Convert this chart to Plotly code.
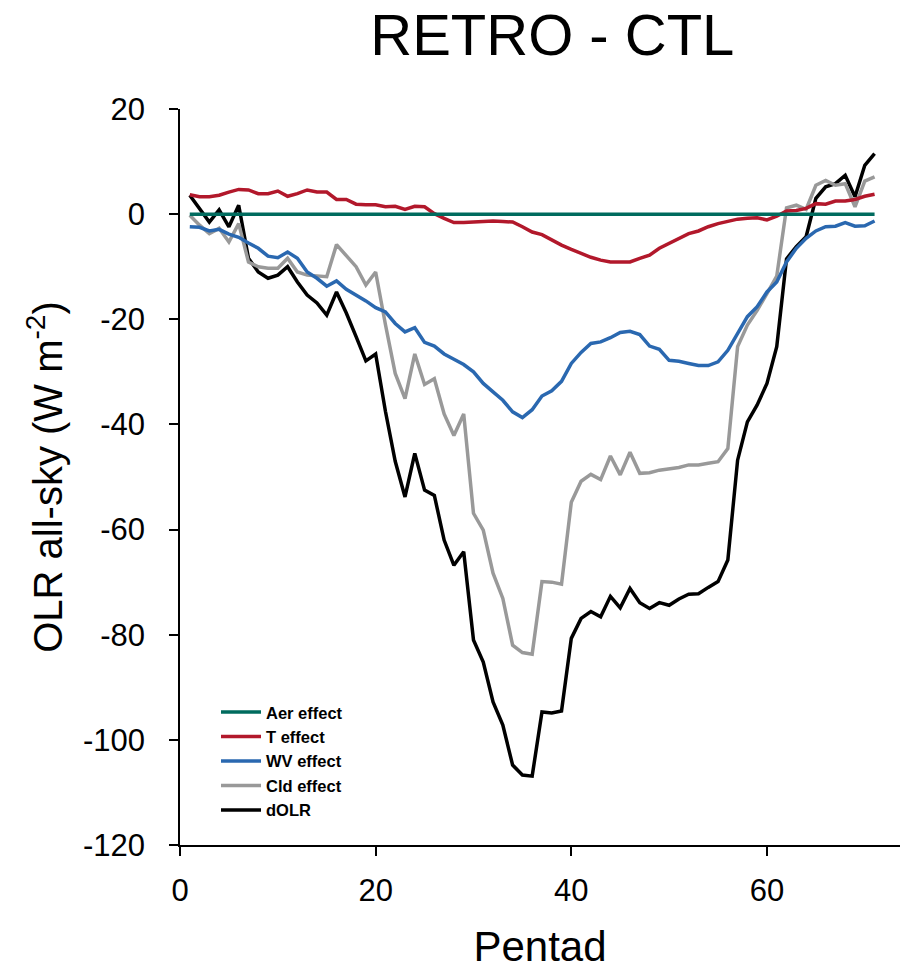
import plotly.graph_objects as go

pentad = list(range(1, 72))

aer_effect = [0.0] * 71

t_effect = [3.7, 3.3, 3.3, 3.6, 4.2, 4.7, 4.6, 3.9, 3.9, 4.4,
            3.4, 3.9, 4.6, 4.2, 4.2, 2.8, 2.8, 1.9, 1.8, 1.8,
            1.4, 1.5, 0.9, 1.5, 1.4, 0.1, -0.8, -1.6, -1.6, -1.5,
            -1.5, -1.3, -1.4, -1.5, -2.4, -3.4, -3.9, -4.9, -5.9, -6.7,
            -7.5, -8.2, -8.75, -9.1, -9.1, -9.1, -8.4, -7.8, -6.5, -5.6,
            -4.6, -3.7, -3.2, -2.4, -1.8, -1.3, -0.95, -0.8, -0.7, -1.1,
            -0.4, 0.6, 0.7, 1.1, 2.0, 1.9, 2.5, 2.5, 2.8, 3.4,
            3.8]

wv_effect = [-2.4, -2.5, -3.2, -2.9, -3.8, -4.4, -5.5, -6.5, -8.0, -8.3,
             -7.2, -8.4, -11.0, -12.2, -13.7, -12.7, -14.3, -15.4, -16.5, -17.8,
             -18.6, -20.8, -22.4, -21.6, -24.4, -25.1, -26.6, -27.6, -28.6, -30.0,
             -32.2, -33.8, -35.4, -37.6, -38.7, -37.2, -34.6, -33.6, -31.8, -28.4,
             -26.3, -24.6, -24.3, -23.5, -22.5, -22.3, -22.9, -25.1, -25.7, -27.8,
             -28.0, -28.4, -28.8, -28.8, -28.1, -25.9, -22.7, -19.5, -17.6, -14.8,
             -12.9, -9.1, -6.5, -4.6, -3.2, -2.4, -2.3, -1.6, -2.3, -2.2,
             -1.3]

cld_effect = [-0.2, -2.1, -3.7, -2.7, -5.3, -1.8, -9.1, -10.0, -10.3, -10.3,
              -8.4, -11.0, -11.6, -11.8, -11.9, -5.8, -7.8, -10.0, -13.5, -11.0,
              -21.0, -30.3, -35.1, -26.6, -32.4, -31.3, -38.0, -42.1, -38.0, -56.9,
              -60.1, -68.3, -73.1, -82.0, -83.4, -83.7, -69.9, -70.0, -70.4, -54.8,
              -50.8, -49.5, -50.5, -46.0, -49.6, -45.3, -49.3, -49.2, -48.7, -48.5,
              -48.2, -47.7, -47.7, -47.4, -47.1, -44.6, -25.2, -21.1, -18.3, -15.1,
              -11.8, 1.2, 1.7, 0.9, 5.5, 6.4, 5.5, 5.8, 1.4, 6.3,
              7.1]

d_olr = [3.6, 1.0, -1.5, 0.8, -2.4, 1.7, -8.4, -11.0, -12.2, -11.6,
         -10.0, -12.9, -15.4, -16.9, -19.2, -14.8, -18.8, -23.3, -27.9, -26.6,
         -37.5, -47.0, -53.8, -45.5, -52.5, -53.5, -62.0, -66.8, -64.2, -81.0,
         -85.2, -92.8, -97.2, -104.8, -106.7, -106.9, -94.7, -94.9, -94.5, -80.7,
         -76.9, -75.6, -76.6, -72.7, -74.9, -71.2, -73.9, -75.0, -73.9, -74.4,
         -73.2, -72.3, -72.2, -71.0, -69.9, -65.8, -46.8, -39.5, -36.3, -32.2,
         -25.2, -8.5, -6.2, -4.3, 3.0, 5.2, 5.8, 7.4, 3.3, 9.3,
         11.5]

series = [
    ("dOLR", d_olr, "#000000"),
    ("Cld effect", cld_effect, "#999999"),
    ("WV effect", wv_effect, "#2a68b0"),
    ("T effect", t_effect, "#b2182b"),
    ("Aer effect", aer_effect, "#006b5e"),
]

x_ticks = [0, 20, 40, 60]
x_tick_labels = ["0", "20", "40", "60"]
y_ticks = [20, 0, -20, -40, -60, -80, -100, -120]
y_tick_labels = ["20", "0", "-20", "-40", "-60", "-80", "-100", "-120"]

fig = go.Figure()
for name, vals, color in series:
    fig.add_trace(go.Scatter(x=pentad, y=vals, mode="lines", name=name,
                             line=dict(color=color, width=3.5)))

FONT = "Liberation Sans, Arial, Helvetica, sans-serif"

fig.update_layout(
    width=901, height=971,
    margin=dict(l=180, r=1, t=109, b=126),
    paper_bgcolor="white", plot_bgcolor="white",
    font=dict(family=FONT, color="black"),
    title=dict(text="RETRO - CTL", x=0.613, xanchor="center", y=0.964, yanchor="middle",
               font=dict(size=58, family=FONT, color="black")),
    legend=dict(x=0.05, y=0.204, xanchor="left", yanchor="top", traceorder="reversed",
                font=dict(size=16.5, family="Liberation Sans, Arial", color="black", weight="bold"),
                bgcolor="rgba(0,0,0,0)", itemwidth=40, tracegroupgap=0),
    showlegend=True,
)

fig.update_xaxes(range=[0, 73.6], tickvals=x_ticks, ticktext=x_tick_labels,
                 showline=True, linecolor="black", linewidth=1.5,
                 ticks="outside", ticklen=9, tickwidth=1.5, tickcolor="black",
                 ticklabelstandoff=8,
                 showgrid=False, zeroline=False, tickfont=dict(size=31, family=FONT),
                 title=dict(text="Pentad", font=dict(size=42, family=FONT), standoff=25))
fig.update_yaxes(range=[-120, 20], tickvals=y_ticks, ticktext=y_tick_labels,
                 showline=True, linecolor="black", linewidth=1.5,
                 ticks="outside", ticklen=9, tickwidth=1.5, tickcolor="black",
                 ticklabelstandoff=18,
                 showgrid=False, zeroline=False, tickfont=dict(size=31, family=FONT),
                 title=dict(text="OLR all-sky (W m<sup>-2</sup>)", font=dict(size=40, family=FONT), standoff=8))

fig.write_html("out.html")
